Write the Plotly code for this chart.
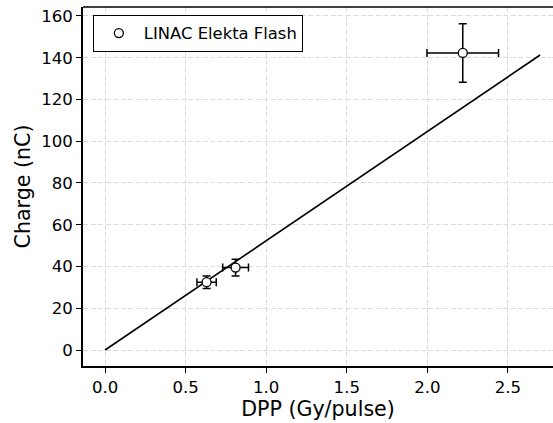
import plotly.graph_objects as go

# Data
dpp = [0.63, 0.81, 2.22]
charge = [32.5, 39.5, 142.3]
dpp_err = [0.06, 0.08, 0.222]
charge_err = [3.0, 4.0, 14.0]

fit_x = [0.0, 2.70]
fit_y = [0.0, 141.3]

x_ticks = [0.0, 0.5, 1.0, 1.5, 2.0, 2.5]
x_ticklabels = ["0.0", "0.5", "1.0", "1.5", "2.0", "2.5"]
y_ticks = [0, 20, 40, 60, 80, 100, 120, 140, 160]

FONT = "DejaVu Sans"
GRID = "#dcdcdc"

fig = go.Figure()

fig.add_trace(go.Scatter(
    x=fit_x, y=fit_y, mode="lines",
    line=dict(color="black", width=1.6),
    showlegend=False, hoverinfo="skip",
))

fig.add_trace(go.Scatter(
    x=dpp, y=charge, mode="markers",
    name="LINAC Elekta Flash",
    marker=dict(symbol="circle", size=9, color="white",
                line=dict(color="black", width=1.3)),
    error_x=dict(type="data", array=dpp_err, visible=True,
                 color="black", thickness=1.5, width=4),
    error_y=dict(type="data", array=charge_err, visible=True,
                 color="black", thickness=1.5, width=4),
))

fig.update_layout(
    width=553, height=423,
    margin=dict(l=83, r=0, t=7, b=57, autoexpand=False),
    paper_bgcolor="white", plot_bgcolor="white",
    font=dict(family=FONT, size=16.6, color="black"),
    showlegend=True,
    legend=dict(
        x=0.021, y=0.978, xanchor="left", yanchor="top",
        bgcolor="white", bordercolor="black", borderwidth=1,
        font=dict(family=FONT, size=16.4, color="black"),
        itemwidth=40,
    ),
    shapes=[dict(type="line", xref="paper", yref="paper",
                 x0=0, x1=1, y0=1, y1=1,
                 line=dict(color="black", width=1.6))],
)

fig.update_xaxes(
    range=[-0.137, 2.780], automargin=False,
    tickvals=x_ticks, ticktext=x_ticklabels,
    showgrid=True, gridcolor=GRID, griddash="5px,2.5px", gridwidth=1,
    zeroline=False,
    showline=True, linecolor="black", linewidth=1.6, mirror=False,
    ticks="outside", ticklen=5, tickwidth=1.2, tickcolor="black",
    tickfont=dict(family=FONT, size=16.6),
    title=dict(text="DPP (Gy/pulse)", font=dict(family=FONT, size=20.6), standoff=2),
)
fig.update_yaxes(
    range=[-7.66, 164.3], automargin=False,
    tickvals=y_ticks,
    showgrid=True, gridcolor=GRID, griddash="5px,2.5px", gridwidth=1,
    zeroline=False,
    showline=True, linecolor="black", linewidth=1.6, mirror=False,
    ticks="outside", ticklen=5, tickwidth=1.2, tickcolor="black",
    tickfont=dict(family=FONT, size=16.6),
    title=dict(text="Charge (nC)", font=dict(family=FONT, size=20.6), standoff=5),
)

fig.write_html(
    "out.html",
    config={"displayModeBar": False},
    post_script="document.body.style.margin='0';document.body.style.overflow='hidden';",
)
